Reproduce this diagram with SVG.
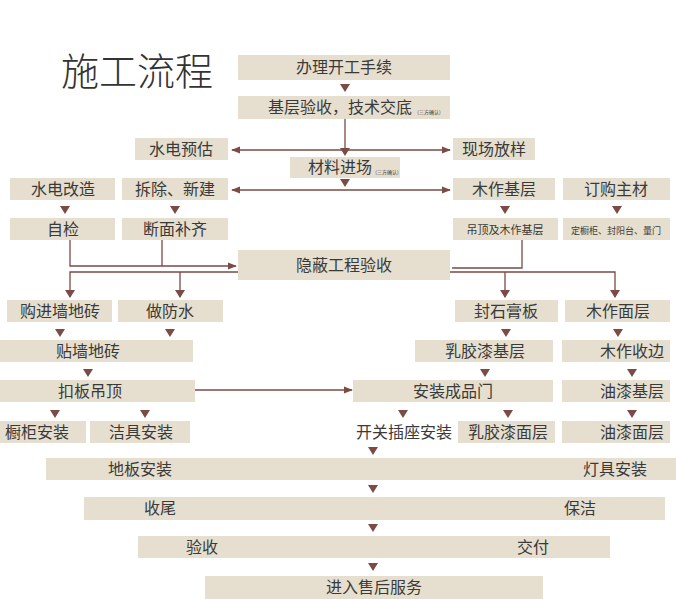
<svg xmlns="http://www.w3.org/2000/svg" width="676" height="599" viewBox="0 0 676 599">
<style>
.b{fill:#e6dfcf}
text{font-family:"Noto Sans CJK SC",sans-serif;fill:#3a3a3a;font-size:16px;text-anchor:middle}
.s{font-size:5px}
.c{stroke:#7b4b45;stroke-width:1.3;fill:none}
</style>
<defs>
<marker id="a" viewBox="0 0 10 10" refX="9" refY="5" markerWidth="7" markerHeight="7" orient="auto"><path d="M0,1L10,5L0,9z" fill="#7b4b45"/></marker>
<path id="d" d="M-5,-4L5,-4L0,4z" fill="#7b4b45"/>
</defs>
<rect width="676" height="599" fill="#fff"/>
<text x="137" y="85" style="font-size:38px;font-weight:300;fill:#333">施工流程</text>
<g id="n1"><rect class="b" x="238" y="55" width="212" height="25"/><text x="344" y="73">办理开工手续</text></g>
<g id="n2"><rect class="b" x="238" y="96" width="212" height="23"/><text x="340" y="113">基层验收，技术交底</text><text class="s" x="429" y="114">(三方确认)</text></g>
<g id="n3"><rect class="b" x="135" y="138" width="93" height="22"/><text x="181" y="155">水电预估</text></g>
<g id="n4"><rect class="b" x="453" y="138" width="82" height="22"/><text x="494" y="155">现场放样</text></g>
<g id="n5"><rect class="b" x="290" y="157" width="110" height="21"/><text x="340" y="173">材料进场</text><text class="s" x="387" y="174">(三方确认)</text></g>
<g id="n6"><rect class="b" x="10" y="178" width="105" height="22"/><text x="63" y="195">水电改造</text></g>
<g id="n7"><rect class="b" x="122" y="178" width="106" height="22"/><text x="175" y="195">拆除、新建</text></g>
<g id="n8"><rect class="b" x="453" y="178" width="102" height="22"/><text x="504" y="195">木作基层</text></g>
<g id="n9"><rect class="b" x="563" y="178" width="107" height="22"/><text x="616" y="195">订购主材</text></g>
<g id="n10"><rect class="b" x="10" y="218" width="105" height="22"/><text x="63" y="235">自检</text></g>
<g id="n11"><rect class="b" x="122" y="218" width="106" height="22"/><text x="175" y="235">断面补齐</text></g>
<g id="n12"><rect class="b" x="453" y="218" width="105" height="22"/><text x="505" y="234" style="font-size:11px">吊顶及木作基层</text></g>
<g id="n13"><rect class="b" x="563" y="218" width="107" height="22"/><text x="616" y="234" style="font-size:9px">定橱柜、封阳台、量门</text></g>
<g id="n14"><rect class="b" x="238" y="250" width="212" height="30"/><text x="344" y="271">隐蔽工程验收</text></g>
<g id="n15"><rect class="b" x="7" y="300" width="105" height="22"/><text x="60" y="317">购进墙地砖</text></g>
<g id="n16"><rect class="b" x="118" y="300" width="105" height="22"/><text x="170" y="317">做防水</text></g>
<g id="n17"><rect class="b" x="455" y="300" width="103" height="22"/><text x="506" y="317">封石膏板</text></g>
<g id="n18"><rect class="b" x="565" y="300" width="105" height="22"/><text x="618" y="317">木作面层</text></g>
<g id="n19"><rect class="b" x="0" y="340" width="193" height="22"/><text x="88" y="357">贴墙地砖</text></g>
<g id="n20"><rect class="b" x="415" y="340" width="138" height="22"/><text x="485" y="357">乳胶漆基层</text></g>
<g id="n21"><rect class="b" x="562" y="340" width="108" height="22"/><text x="632" y="357">木作收边</text></g>
<g id="n22"><rect class="b" x="0" y="380" width="195" height="22"/><text x="90" y="397">扣板吊顶</text></g>
<g id="n23"><rect class="b" x="353" y="380" width="200" height="22"/><text x="453" y="397">安装成品门</text></g>
<g id="n24"><rect class="b" x="562" y="380" width="108" height="22"/><text x="632" y="397">油漆基层</text></g>
<g id="n25"><rect class="b" x="0" y="421" width="86" height="22"/><text x="37" y="438">橱柜安装</text></g>
<g id="n26"><rect class="b" x="90" y="421" width="100" height="22"/><text x="141" y="438">洁具安装</text></g>
<g id="n27"><text x="404" y="438">开关插座安装</text></g>
<g id="n28"><rect class="b" x="458" y="421" width="97" height="22"/><text x="508" y="438">乳胶漆面层</text></g>
<g id="n29"><rect class="b" x="562" y="421" width="108" height="22"/><text x="632" y="438">油漆面层</text></g>
<g id="n30"><rect class="b" x="46" y="458" width="630" height="22"/><text x="140" y="475">地板安装</text><text x="615" y="475">灯具安装</text></g>
<g id="n31"><rect class="b" x="84" y="497" width="581" height="23"/><text x="160" y="514">收尾</text><text x="580" y="514">保洁</text></g>
<g id="n32"><rect class="b" x="138" y="536" width="472" height="22"/><text x="202" y="553">验收</text><text x="533" y="553">交付</text></g>
<g id="n33"><rect class="b" x="205" y="576" width="338" height="23"/><text x="374" y="593">进入售后服务</text></g>
<g id="connectors">
<path class="c" d="M345,119V150"/>
<path class="c" d="M345,150H450" marker-end="url(#a)"/>
<path class="c" d="M345,150H232" marker-end="url(#a)"/>
<path class="c" d="M345,190H450" marker-end="url(#a)"/>
<path class="c" d="M345,190H232" marker-end="url(#a)"/>
<path class="c" d="M70,240V266H236" marker-end="url(#a)"/>
<path class="c" d="M162,240V266"/>
<path class="c" d="M522,240V268H452"/>
<path class="c" d="M238,272H70V297M180,272V297M450,272H615V297M505,272V297"/>
<path class="c" d="M195,390H352" marker-end="url(#a)"/>
<use href="#d" x="345" y="88"/><use href="#d" x="345" y="152"/><use href="#d" x="345" y="183"/>
<use href="#d" x="65" y="210"/><use href="#d" x="175" y="210"/><use href="#d" x="505" y="210"/><use href="#d" x="617" y="210"/>
<use href="#d" x="70" y="294"/><use href="#d" x="180" y="294"/><use href="#d" x="505" y="294"/><use href="#d" x="615" y="294"/>
<use href="#d" x="60" y="333"/><use href="#d" x="170" y="333"/><use href="#d" x="506" y="333"/><use href="#d" x="618" y="333"/>
<use href="#d" x="88" y="373"/><use href="#d" x="485" y="373"/><use href="#d" x="632" y="373"/>
<use href="#d" x="55" y="414"/><use href="#d" x="145" y="414"/><use href="#d" x="403" y="414"/><use href="#d" x="508" y="414"/><use href="#d" x="632" y="414"/>
<use href="#d" x="373" y="451"/><use href="#d" x="373" y="489"/><use href="#d" x="373" y="528"/><use href="#d" x="373" y="567"/>
</g>
</svg>
